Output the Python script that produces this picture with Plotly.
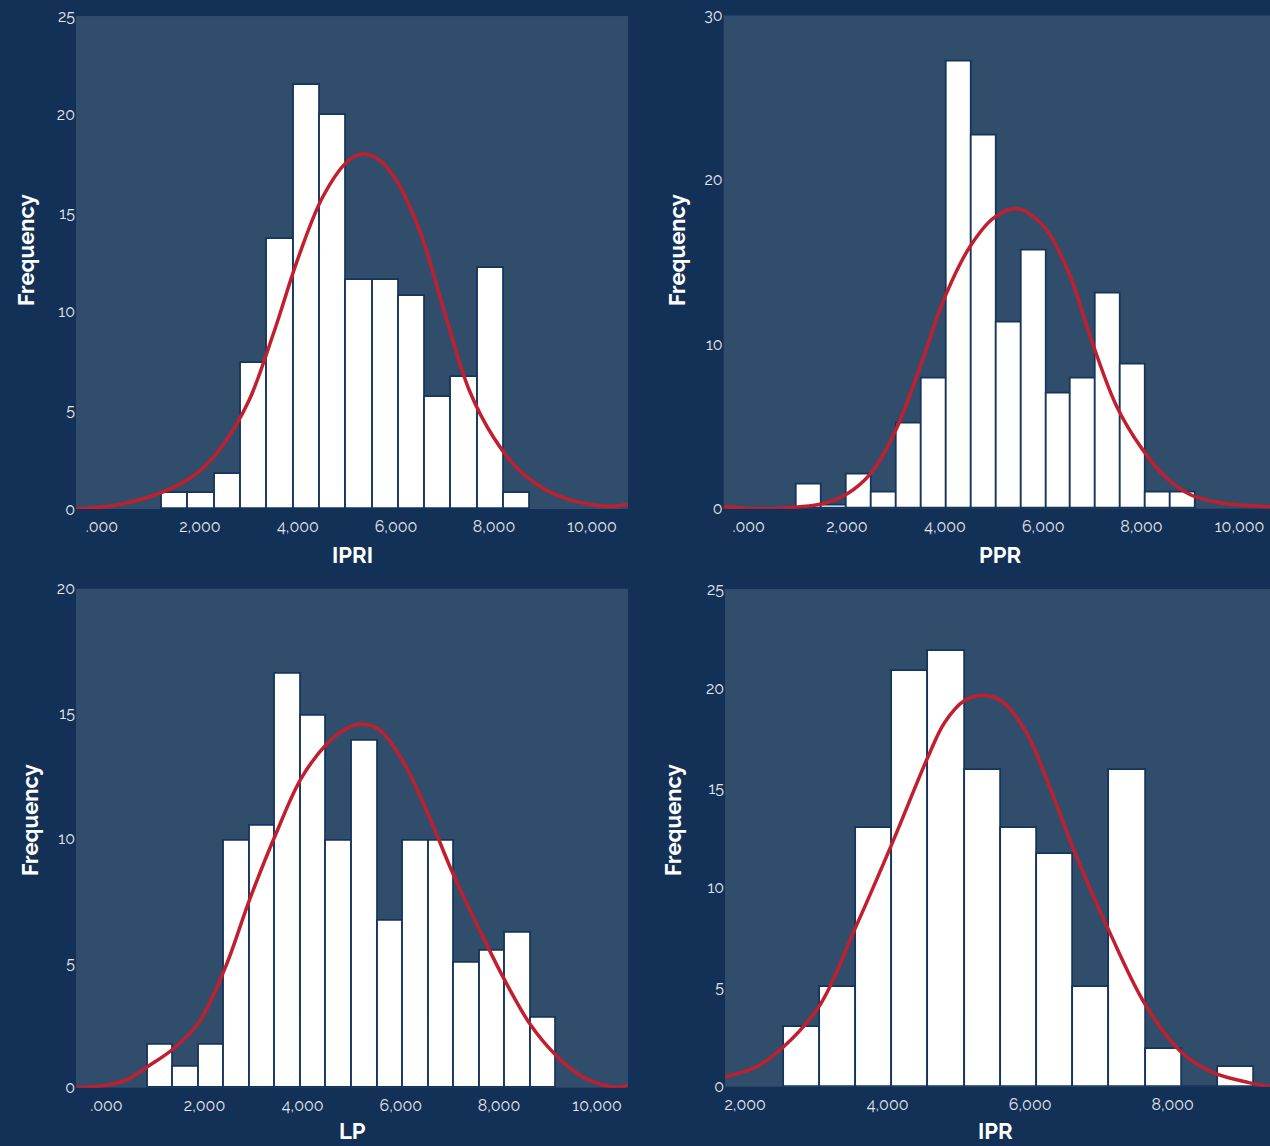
import plotly.graph_objects as go

# ---------------- data ----------------
# IPRI
ipri_bin_start = 1224
ipri_bin_width = 537
ipri_counts = [0.8, 0.8, 1.8, 7.4, 13.7, 21.5, 20.0, 11.6, 11.6, 10.8, 5.7, 6.7, 12.2, 0.8]
ipri_curve_x = [-530, 0, 500, 1000, 1500, 2000, 2500, 3000, 3500, 4000, 4500, 5000, 5300,
                5600, 6000, 6500, 7000, 7500, 8000, 8500, 9000, 9500, 10000, 10400, 10735]
ipri_curve_y = [0.0, 0.1, 0.3, 0.65, 1.15, 1.95, 3.35, 5.5, 8.9, 12.7, 15.8, 17.6, 18.0,
                17.8, 16.7, 14.0, 9.9, 6.0, 3.6, 2.0, 1.05, 0.5, 0.22, 0.14, 0.25]

# PPR
ppr_bin_start = 980
ppr_bin_width = 508
ppr_counts = [1.5, 0.2, 2.1, 1.0, 5.2, 7.9, 27.2, 22.7, 11.3, 15.7, 7.0, 7.9, 13.1, 8.8, 1.0, 1.0]
ppr_curve_x = [-510, 0, 500, 1000, 1500, 2000, 2500, 3000, 3500, 4000, 4500, 5000, 5470,
               6000, 6500, 7000, 7500, 8000, 8500, 9000, 9500, 10000, 10620]
ppr_curve_y = [0.12, 0.02, 0.0, 0.1, 0.3, 0.9, 2.2, 4.8, 8.7, 12.9, 15.9, 17.7, 18.25,
               17.2, 14.5, 10.1, 6.2, 3.7, 1.9, 0.85, 0.42, 0.22, 0.12]

# LP
lp_bin_start = 844
lp_bin_width = 520
lp_counts = [1.7, 0.85, 1.7, 9.9, 10.5, 16.6, 14.9, 9.9, 13.9, 6.7, 9.9, 9.9, 5.0, 5.5, 6.2, 2.8]
lp_curve_x = [-620, 0, 400, 844, 1360, 1880, 2420, 2930, 3460, 3970, 4500, 4850, 5150, 5530,
              6040, 6570, 7080, 7610, 8120, 8650, 9160, 9650, 10100, 10400, 10630]
lp_curve_y = [0.0, 0.1, 0.3, 0.85, 1.55, 2.6, 4.8, 7.6, 10.2, 12.4, 13.8, 14.35, 14.57, 14.4,
              13.1, 10.9, 8.5, 6.3, 4.3, 2.5, 1.3, 0.5, 0.12, 0.02, 0.1]

# IPR
ipr_bin_start = 2540
ipr_bin_width = 508
ipr_counts = [3.0, 5.0, 13.0, 20.9, 21.9, 15.9, 13.0, 11.7, 5.0, 15.9, 1.9, 0.0, 1.0]
ipr_curve_x = [1718, 2160, 2540, 3050, 3550, 4060, 4570, 4800, 5080, 5330, 5590, 5930,
               6270, 6600, 7110, 7620, 8130, 8570, 9070, 9370]
ipr_curve_y = [0.5, 1.0, 2.0, 4.1, 8.0, 12.2, 16.6, 18.3, 19.4, 19.65, 19.4, 17.9,
               15.1, 12.0, 7.8, 4.1, 1.7, 0.7, 0.2, 0.0]

x_tick_vals = [0, 2000, 4000, 6000, 8000, 10000]
x_tick_text = [".000", "2,000", "4,000", "6,000", "8,000", "10,000"]
ipr_tick_vals = [2000, 4000, 6000, 8000]
ipr_tick_text = ["2,000", "4,000", "6,000", "8,000"]

# ---------------- styling ----------------
PAGE_BG = "#133057"
PLOT_BG = "#304e6c"
BAR_EDGE = "#15355b"
CURVE = "#c21f2e"
TICK_COLOR = "#e2e6ed"
FONT = "Raleway, Lato, 'Open Sans', sans-serif"

panels = [
    dict(name="IPRI", start=ipri_bin_start, width=ipri_bin_width, counts=ipri_counts,
         cx=ipri_curve_x, cy=ipri_curve_y, xrange=[-530, 10735], yrange=[0, 25], ydtick=5,
         xdom=[0.0598, 0.4945], ydom=[0.5558, 0.986], tv=x_tick_vals, tt=x_tick_text,
         xt=(352, 555), yt=(26, 250)),
    dict(name="PPR", start=ppr_bin_start, width=ppr_bin_width, counts=ppr_counts,
         cx=ppr_curve_x, cy=ppr_curve_y, xrange=[-510, 10620], yrange=[0, 30], ydtick=10,
         xdom=[0.5698, 1.0], ydom=[0.5561, 0.9865], tv=x_tick_vals, tt=x_tick_text,
         xt=(1000, 555), yt=(677, 250)),
    dict(name="LP", start=lp_bin_start, width=lp_bin_width, counts=lp_counts,
         cx=lp_curve_x, cy=lp_curve_y, xrange=[-620, 10630], yrange=[0, 20], ydtick=5,
         xdom=[0.0598, 0.4945], ydom=[0.0509, 0.4862], tv=x_tick_vals, tt=x_tick_text,
         xt=(352, 1131), yt=(30, 820)),
    dict(name="IPR", start=ipr_bin_start, width=ipr_bin_width, counts=ipr_counts,
         cx=ipr_curve_x, cy=ipr_curve_y, xrange=[1718, 9366], yrange=[0, 25], ydtick=5,
         xdom=[0.5709, 1.0], ydom=[0.0518, 0.486], tv=ipr_tick_vals, tt=ipr_tick_text,
         xt=(995, 1131), yt=(673, 820)),
]

W, H = 1270, 1146
fig = go.Figure()
layout = dict(
    width=W, height=H,
    paper_bgcolor=PAGE_BG, plot_bgcolor=PLOT_BG,
    margin=dict(l=0, r=0, t=0, b=0, autoexpand=False),
    showlegend=False, bargap=0,
    font=dict(family=FONT, color=TICK_COLOR, size=16),
)
annotations = []

for i, p in enumerate(panels, start=1):
    xa = "x" if i == 1 else f"x{i}"
    ya = "y" if i == 1 else f"y{i}"
    centers = [p["start"] + p["width"] * (k + 0.5) for k in range(len(p["counts"]))]
    fig.add_trace(go.Bar(
        x=centers, y=p["counts"], width=p["width"],
        marker=dict(color="white", line=dict(color=BAR_EDGE, width=1.8)),
        xaxis=xa, yaxis=ya, hoverinfo="skip",
    ))
    fig.add_trace(go.Scatter(
        x=p["cx"], y=p["cy"], mode="lines",
        line=dict(color=CURVE, width=3.5, shape="spline", smoothing=1.0),
        xaxis=xa, yaxis=ya, hoverinfo="skip",
    ))
    xkey = "xaxis" if i == 1 else f"xaxis{i}"
    ykey = "yaxis" if i == 1 else f"yaxis{i}"
    layout[xkey] = dict(
        domain=p["xdom"], anchor=ya, range=p["xrange"], automargin=False,
        tickvals=p["tv"], ticktext=p["tt"],
        showgrid=False, zeroline=False, showline=False,
        ticks="outside", ticklen=3, tickcolor="rgba(0,0,0,0)",
        tickfont=dict(size=16, color=TICK_COLOR, family=FONT),
    )
    layout[ykey] = dict(
        domain=p["ydom"], anchor=xa, range=p["yrange"], dtick=p["ydtick"], automargin=False,
        showgrid=False, zeroline=False, showline=False,
        ticks="", tickfont=dict(size=16, color=TICK_COLOR, family=FONT),
    )
    annotations.append(dict(
        text=f"<b>{p['name']}</b>", x=p["xt"][0] / W, y=1 - p["xt"][1] / H,
        xref="paper", yref="paper", showarrow=False,
        xanchor="center", yanchor="middle",
        font=dict(size=22, color="white", family=FONT),
    ))
    annotations.append(dict(
        text="<b>Frequency</b>", x=p["yt"][0] / W, y=1 - p["yt"][1] / H,
        xref="paper", yref="paper", showarrow=False, textangle=-90,
        xanchor="center", yanchor="middle",
        font=dict(size=22, color="white", family=FONT),
    ))

layout["annotations"] = annotations
fig.update_layout(**layout)
fig.write_html("out.html")
